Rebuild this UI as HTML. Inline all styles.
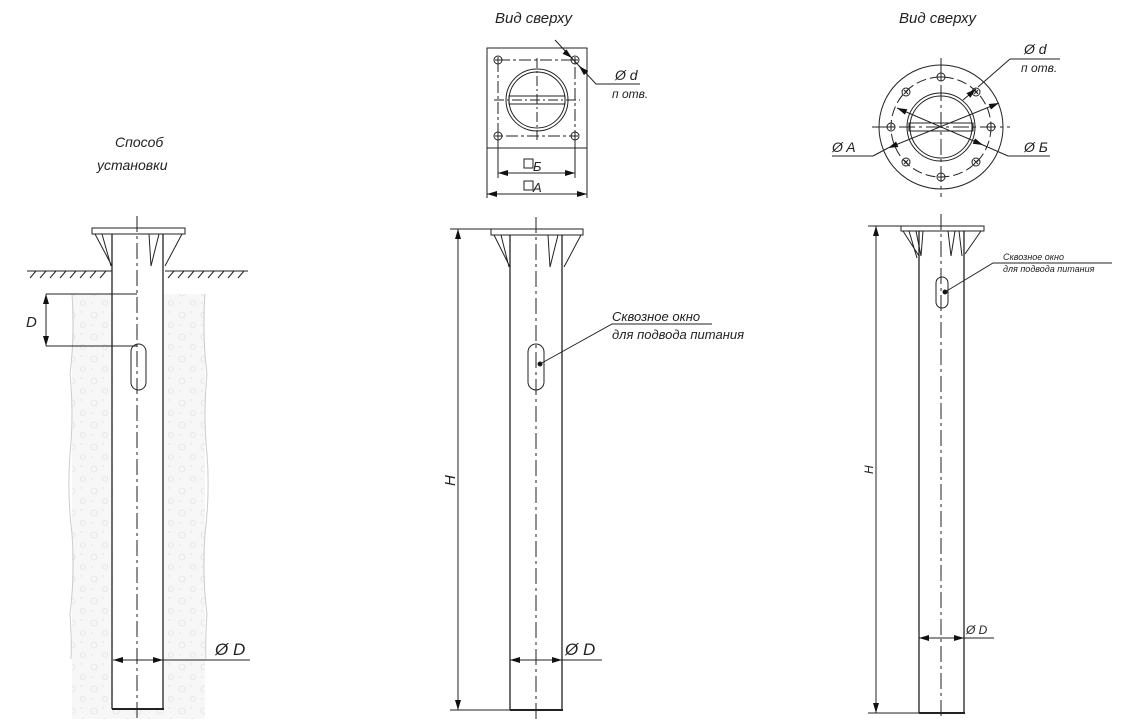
<!DOCTYPE html>
<html><head><meta charset="utf-8">
<style>
html,body{margin:0;padding:0;background:#fff;}
svg{display:block;}
text{font-family:"Liberation Sans",sans-serif;font-style:italic;fill:#222;}
</style></head><body>
<svg width="1135" height="719" viewBox="0 0 1135 719" xmlns="http://www.w3.org/2000/svg">
<defs>
<pattern id="soil" width="22" height="22" patternUnits="userSpaceOnUse">
<rect width="22" height="22" fill="#f7f7f7"/>
<circle cx="6" cy="7" r="3" fill="none" stroke="#e2e2e2" stroke-width="0.8"/>
<circle cx="17" cy="17" r="2.5" fill="none" stroke="#e2e2e2" stroke-width="0.8"/>
<circle cx="15" cy="4" r="0.7" fill="#ddd"/><circle cx="4" cy="17" r="0.7" fill="#ddd"/>
</pattern>
<marker id="ar" viewBox="0 0 10 6" refX="10" refY="3" markerWidth="10" markerHeight="6" orient="auto-start-reverse" markerUnits="userSpaceOnUse"><path d="M0,0 L10,3 L0,6 z" fill="#111"/></marker>
</defs>
<g stroke="#222" stroke-width="1" fill="none">

<!-- Pole 1 -->
<path d="M72,294 L205,294 L205,719 L72,719 Z" fill="url(#soil)" stroke="none"/>
<path d="M72,294 q3,40 -2,80 q4,40 0,80 q-3,40 2,80 q3,40 -2,80 q2,30 1,45" stroke="#ccc"/>
<path d="M205,294 q-3,40 2,80 q-4,40 0,80 q3,40 -2,80 q-3,40 2,80 q-2,30 -1,45" stroke="#ccc"/>
<rect x="113" y="268" width="50" height="441" fill="#fff" stroke="none"/>
<line x1="27" y1="271" x2="112" y2="271"/><line x1="165" y1="271" x2="248" y2="271"/>
<path d="M30,278 l6,-7 M40,278 l6,-7 M50,278 l6,-7 M60,278 l6,-7 M70,278 l6,-7 M80,278 l6,-7 M90,278 l6,-7 M100,278 l6,-7 M168,278 l6,-7 M178,278 l6,-7 M188,278 l6,-7 M198,278 l6,-7 M208,278 l6,-7 M218,278 l6,-7 M228,278 l6,-7 M238,278 l6,-7"/>
<g transform="translate(137,228)">
<rect x="-45" y="0" width="93" height="6"/>
<line x1="-25" y1="6" x2="-25" y2="481" stroke-width="1.3"/><line x1="26" y1="6" x2="26" y2="481" stroke-width="1.3"/>
<line x1="-25" y1="481" x2="27" y2="481" stroke-width="2"/>
<path d="M-42,6 L-25,38 M-35,6 L-26,38 M12,6 L14,38 L22,6 M45,6 L28,38"/>
<line x1="0" y1="-12" x2="0" y2="491" stroke-dasharray="16,4,3,4"/>
<rect x="-6" y="116" width="15" height="46" rx="7.5"/>
</g>
<line x1="46" y1="294" x2="137" y2="294"/><line x1="46" y1="346" x2="137" y2="346"/>
<line x1="46" y1="294" x2="46" y2="346" marker-start="url(#ar)" marker-end="url(#ar)"/>
<line x1="113" y1="660" x2="163" y2="660" marker-start="url(#ar)" marker-end="url(#ar)"/>
<line x1="163" y1="660" x2="250" y2="660"/>

<!-- Pole 2 -->
<g transform="translate(536,229)">
<rect x="-45" y="0" width="92" height="6"/>
<line x1="-26" y1="6" x2="-26" y2="481" stroke-width="1.3"/><line x1="26" y1="6" x2="26" y2="481" stroke-width="1.3"/>
<line x1="-26" y1="481" x2="27" y2="481" stroke-width="2"/>
<path d="M-42,6 L-26,38 M-35,6 L-27,38 M12,6 L14,38 L22,6 M45,6 L28,38"/>
<line x1="0" y1="-12" x2="0" y2="491" stroke-dasharray="16,4,3,4"/>
<rect x="-8" y="115" width="16" height="46" rx="8"/>
</g>
<line x1="450" y1="229" x2="491" y2="229"/><line x1="450" y1="710" x2="510" y2="710"/>
<line x1="458" y1="229" x2="458" y2="710" marker-start="url(#ar)" marker-end="url(#ar)"/>
<line x1="510" y1="660" x2="562" y2="660" marker-start="url(#ar)" marker-end="url(#ar)"/>
<line x1="562" y1="660" x2="602" y2="660"/>
<path d="M540,364 L612,324 L712,324"/>
<circle cx="540" cy="364" r="2" fill="#111"/>

<!-- Top view square -->
<rect x="487" y="48" width="100" height="100"/>
<rect x="498" y="60" width="77" height="76" stroke-dasharray="12,3,3,3"/>
<circle cx="537" cy="100" r="31"/><circle cx="537" cy="100" r="28"/>
<rect x="509" y="96" width="56" height="8"/>
<line x1="537" y1="58" x2="537" y2="142" stroke-dasharray="10,3,2,3"/>
<line x1="494" y1="100" x2="580" y2="100" stroke-dasharray="10,3,2,3"/>
<g><circle cx="498" cy="60" r="4"/><circle cx="575" cy="60" r="4"/><circle cx="498" cy="136" r="4"/><circle cx="575" cy="136" r="4"/></g>
<path d="M495,60h6M498,57v6M572,60h6M575,57v6M495,136h6M498,133v6M572,136h6M575,133v6"/>
<line x1="498" y1="136" x2="498" y2="178"/><line x1="575" y1="136" x2="575" y2="178"/>
<line x1="487" y1="148" x2="487" y2="198"/><line x1="587" y1="148" x2="587" y2="198"/>
<line x1="498" y1="173" x2="575" y2="173" marker-start="url(#ar)" marker-end="url(#ar)"/>
<line x1="487" y1="194" x2="587" y2="194" marker-start="url(#ar)" marker-end="url(#ar)"/>
<path d="M555,40 L596,84 L640,84"/>
<line x1="565" y1="52" x2="572" y2="58" marker-end="url(#ar)"/>
<line x1="587" y1="74" x2="579" y2="66" marker-end="url(#ar)"/>
<rect x="524" y="159" width="9" height="9"/><rect x="524" y="181" width="9" height="9"/>

<!-- Top view round -->
<circle cx="941" cy="127" r="62"/>
<circle cx="941" cy="127" r="50" stroke-dasharray="10,4"/>
<circle cx="941" cy="127" r="34"/><circle cx="941" cy="127" r="31"/>
<rect x="909" y="123" width="64" height="8"/>
<line x1="941" y1="58" x2="941" y2="197" stroke-dasharray="16,4,3,4"/>
<line x1="872" y1="127" x2="1010" y2="127" stroke-dasharray="16,4,3,4"/>
<g>
<circle cx="941" cy="77" r="4"/><circle cx="941" cy="177" r="4"/><circle cx="891" cy="127" r="4"/><circle cx="991" cy="127" r="4"/>
<path d="M938,77h6M941,74v6M938,177h6M941,174v6M888,127h6M891,124v6M988,127h6M991,124v6"/>
<circle cx="906" cy="92" r="4"/><circle cx="976" cy="92" r="4"/><circle cx="906" cy="162" r="4"/><circle cx="976" cy="162" r="4"/>
<path d="M904,90l4,4M908,90l-4,4M974,90l4,4M978,90l-4,4M904,160l4,4M908,160l-4,4M974,160l4,4M978,160l-4,4"/>
</g>
<path d="M873,156 L832,156"/>
<path d="M873,156 L888,148"/>
<line x1="888" y1="148" x2="999" y2="103" marker-start="url(#ar)" marker-end="url(#ar)"/>
<line x1="897" y1="108" x2="983" y2="145" marker-start="url(#ar)" marker-end="url(#ar)"/>
<path d="M983,145 L1008,156 L1050,156"/>
<path d="M1010,59 L1060,59 M1010,59 L978,87"/>
<line x1="963" y1="100" x2="976" y2="89" marker-end="url(#ar)"/>

<!-- Pole 3 -->
<g transform="translate(941,226)">
<rect x="-40" y="0" width="83" height="5"/>
<line x1="-22" y1="5" x2="-22" y2="487" stroke-width="1.3"/><line x1="23" y1="5" x2="23" y2="487" stroke-width="1.3"/>
<line x1="-22" y1="487" x2="24" y2="487" stroke-width="2"/>
<path d="M-38,5 L-22,30 M-32,5 L-24,32 M-25,5 L-20,30 L-18,5 M7,5 L10,30 L14,5 M18,5 L21,30 M40,5 L24,28"/>
<line x1="0" y1="-12" x2="0" y2="493" stroke-dasharray="16,4,3,4"/>
<rect x="-5" y="51" width="12" height="31" rx="6"/>
</g>
<line x1="868" y1="226" x2="902" y2="226"/><line x1="868" y1="713" x2="919" y2="713"/>
<line x1="876" y1="226" x2="876" y2="713" marker-start="url(#ar)" marker-end="url(#ar)"/>
<line x1="919" y1="638" x2="964" y2="638" marker-start="url(#ar)" marker-end="url(#ar)"/>
<line x1="964" y1="638" x2="994" y2="638"/>
<path d="M945,292 L993,263 L1112,263"/>
<circle cx="945" cy="292" r="2" fill="#111"/>
</g>

<g font-size="14">
<text x="115" y="147">Способ</text>
<text x="97" y="170">установки</text>
<text x="26" y="327" font-size="15">D</text>
<text x="215" y="655" font-size="17">Ø D</text>
<text x="565" y="655" font-size="17">Ø D</text>
<text x="966" y="634" font-size="12">Ø D</text>
<text x="495" y="23" font-size="15">Вид сверху</text>
<text x="899" y="23" font-size="15">Вид сверху</text>
<text x="615" y="80">Ø d</text>
<text x="612" y="98" font-size="12">п  отв.</text>
<text x="1024" y="54">Ø d</text>
<text x="1021" y="72" font-size="12">п  отв.</text>
<text x="832" y="152">Ø A</text>
<text x="1024" y="152">Ø Б</text>
<text x="533" y="171" font-size="13">Б</text>
<text x="533" y="192" font-size="13">A</text>
<text x="612" y="321" font-size="13">Сквозное окно</text>
<text x="612" y="339" font-size="13">для подвода питания</text>
<text x="1003" y="260" font-size="9">Сквозное окно</text>
<text x="1003" y="272" font-size="9">для подвода питания</text>
<text transform="translate(455,486) rotate(-90)" font-size="15">H</text>
<text transform="translate(873,474) rotate(-90)" font-size="12">H</text>
</g>
</svg>
</body></html>
